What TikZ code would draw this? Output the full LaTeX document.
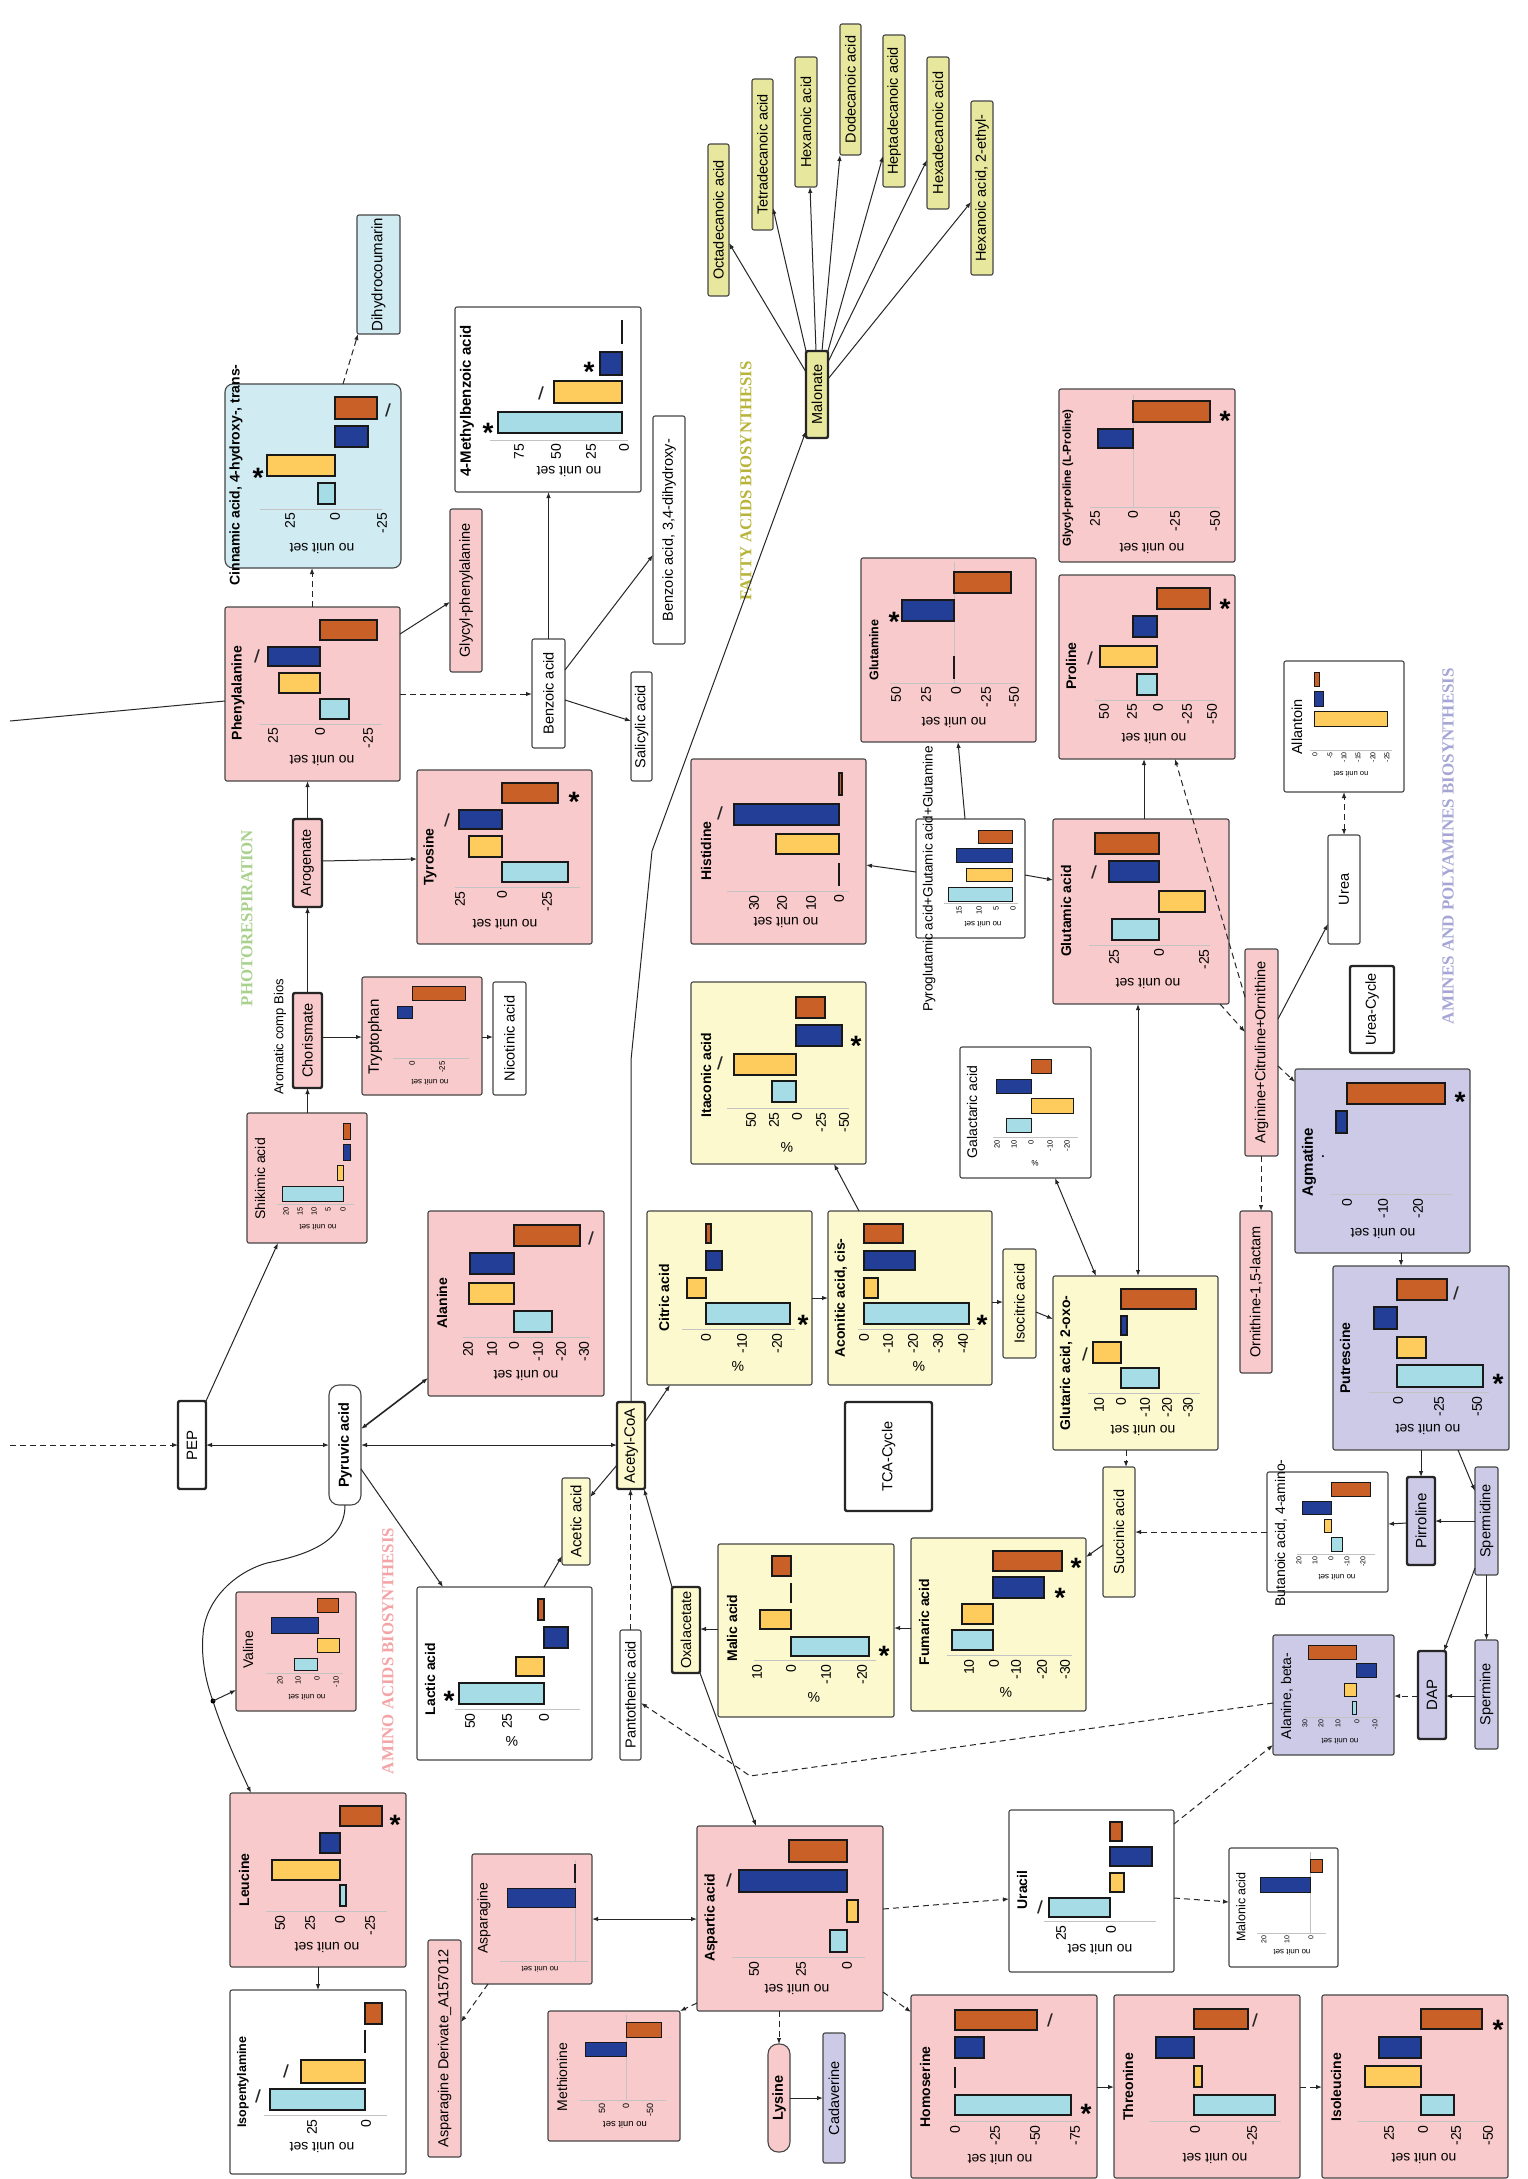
\documentclass[tikz,border=0pt]{standalone}
\usepackage{fontspec}
\usepackage{graphicx}
\setmainfont{Liberation Sans}
\newfontfamily\serf{Liberation Serif}
\newfontfamily\djv{DejaVu Sans}
\usetikzlibrary{arrows.meta}
\definecolor{pinkc}{RGB}{249,202,203}
\definecolor{cyanc}{RGB}{208,236,242}
\definecolor{yelc}{RGB}{253,249,206}
\definecolor{fatc}{RGB}{231,231,158}
\definecolor{purc}{RGB}{204,202,230}
\definecolor{bor}{RGB}{70,70,70}
\definecolor{bO}{RGB}{200,96,40}
\definecolor{bB}{RGB}{34,62,150}
\definecolor{bY}{RGB}{254,204,92}
\definecolor{bL}{RGB}{166,220,230}
\definecolor{axc}{RGB}{195,195,195}
\definecolor{secG}{RGB}{169,209,142}
\definecolor{secF}{RGB}{184,180,58}
\definecolor{secA}{RGB}{244,164,166}
\definecolor{secP}{RGB}{166,166,214}
\newcommand\fs[1]{\fontsize{#1}{#1}\selectfont}
\newcommand\bx[7]{\node[#1,minimum width={(#5)-(#3)},minimum height={(#6)-(#4)}] (#2) at ({((#3)+(#5))/2},{((#4)+(#6))/2}) {#7};}
\newcommand\hb[5]{\filldraw[barst,fill=#5] (#1,#3) rectangle (#2,#4);}
\newcommand\hbs[5]{\filldraw[barst,line width=0.9pt,fill=#5] (#1,#3) rectangle (#2,#4);}
\newcommand\zl[3]{\draw[zlin] (#1,#2) -- (#1,#3);}
\newcommand\zg[3]{\draw[axst] (#1,#2) -- (#1,#3);}
\newcommand\axl[3]{\draw[axst] (#1,#3) -- (#2,#3);}
\newcommand\tks[3]{\foreach \pp/\tv in {#3}{\node[tkst,font=\fs{#2}] at (\pp,#1) {\tv};}}
\newcommand\nous[3][14]{\node[nus,font=\fs{#1}] at (#2,#3) {no unit set};}
\newcommand\pct[3][14]{\node[nus,font=\fs{#1}] at (#2,#3) {\%};}
\newcommand\ttl[4][tit]{\node[#1] at (#2,#3) {#4};}
\newcommand\stm[2]{\node[stst] at (#1,{#2+16}) {*};}
\newcommand\slm[2]{\node[slst] at (#1,#2) {/};}
\tikzset{
 bxs/.style={draw=bor,line width=1.1pt,inner sep=0pt,outer sep=0pt,rounded corners=2pt,font=\fs{14.5}},
 pk/.style={bxs,fill=pinkc}, cy/.style={bxs,fill=cyanc}, yl/.style={bxs,fill=yelc},
 ft/.style={bxs,fill=fatc}, pu/.style={bxs,fill=purc}, wh/.style={bxs,fill=white},
 thk/.style={line width=2.4pt,draw=black!85},
 barst/.style={draw=black!90,line width=1.4pt},
 zlin/.style={draw=black!90,line width=2.8pt},
 axst/.style={draw=axc,line width=0.9pt},
 tkst/.style={rotate=90,anchor=east,inner sep=0pt},
 tit/.style={rotate=90,inner sep=0pt,font=\bfseries\fs{14}},
 titn/.style={rotate=90,inner sep=0pt,font=\fs{14}},
 nus/.style={rotate=180,inner sep=0pt},
 stst/.style={inner sep=0pt,anchor=base,font=\bfseries\fs{28}},
 slst/.style={inner sep=0pt,font=\djv\bfseries\fs{16},text=black!85},
 sec/.style={rotate=90,inner sep=0pt,font=\serf\bfseries},
 con/.style={draw=black!85,line width=1pt},
 arr/.style={con,-{Latex[length=6pt,width=4.5pt]}},
 darr/.style={con,{Latex[length=6pt,width=4.5pt]}-{Latex[length=6pt,width=4.5pt]}},
 dsh/.style={dash pattern=on 6pt off 4pt},
}
\begin{document}
\begin{tikzpicture}[x=1pt,y=-1pt]
\fill[white] (0,0) rectangle (1527,2179);
\useasboundingbox (0,0) rectangle (1527,2179);
% section labels
\node[sec,text=secG] at (247,918) {\resizebox{176pt}{!}{PHOTORESPIRATION}};
\node[sec,text=secF] at (746,481) {\resizebox{239pt}{!}{FATTY ACIDS BIOSYNTHESIS}};
\node[sec,text=secA] at (388,1651) {\resizebox{246pt}{!}{AMINO ACIDS BIOSYNTHESIS}};
\node[sec,text=secP] at (1448,846) {\resizebox{356pt}{!}{AMINES AND POLYAMINES BIOSYNTHESIS}};
\node[rotate=90,inner sep=0pt,font=\fs{13}] at (280,1037) {Aromatic comp Bios};
% ---- Cinnamic
\bx{cy,rounded corners=8pt}{cin}{225}{384}{401}{568}{}
\ttl{236}{475}{Cinnamic acid, 4-hydroxy-, trans-}
\hb{335}{377}{397}{419}{bO}\hb{335}{368}{426}{447}{bB}\hb{267}{335}{455}{476}{bY}\hb{318}{335}{483}{504}{bL}
\axl{260}{382}{509}\tks{513}{14}{290/25,335/0,382/-25}\nous{322}{548}\stm{258}{471}\slm{388}{410}
\bx{cy,font=\fs{15}}{dih}{357}{215}{400}{334}{\rotatebox{90}{Dihydrocoumarin}}
% ---- 4-Methylbenzoic
\bx{wh}{mbz}{455}{307}{641}{492}{}
\ttl[tit,font=\bfseries\fs{15}]{467}{401}{4-Methylbenzoic acid}
\hb{498}{622}{412}{433}{bL}\hb{554}{622}{381}{403}{bY}\hb{600}{622}{352}{375}{bB}\zl{622}{320}{344}
\axl{490}{628}{440}\tks{444}{14}{519/75,556/50,591/25,624/0}\nous{569}{471}
\stm{488}{426}\slm{541}{393}\stm{589}{365}
% ---- fatty acids
\bx{ft}{oct}{708}{144}{729}{296}{\rotatebox{90}{Octadecanoic acid}}
\bx{ft}{tet}{752}{79}{773}{230}{\rotatebox{90}{Tetradecanoic acid}}
\bx{ft}{hex}{795}{57}{817}{187}{\rotatebox{90}{Hexanoic acid}}
\bx{ft}{dod}{840}{24}{861}{155}{\rotatebox{90}{Dodecanoic acid}}
\bx{ft}{hep}{883}{35}{905}{187}{\rotatebox{90}{Heptadecanoic acid}}
\bx{ft}{hxd}{927}{57}{949}{209}{\rotatebox{90}{Hexadecanoic acid}}
\bx{ft}{hxe}{971}{101}{993}{275}{\rotatebox{90}{Hexanoic acid, 2-ethyl-}}
\bx{ft,thk}{mal}{806}{351}{828}{438}{\rotatebox{90}{Malonate}}
\bx{wh}{b34}{653}{416}{685}{644}{\rotatebox{90}{Benzoic acid, 3,4-dihydroxy-}}
% ---- Glycyl-proline
\bx{pk}{glp}{1059}{389}{1235}{562}{}
\ttl[tit,font=\bfseries\fs{11.5}]{1068}{478}{Glycyl-proline (L-Proline)}
\zg{1133}{395}{507}
\hb{1133}{1210}{401}{422}{bO}\hb{1098}{1133}{429}{448}{bB}
\axl{1090}{1220}{507}\tks{511}{14}{1095/25,1133/0,1175/-25,1215/-50}\nous{1152}{548}\stm{1225}{414}
% ---- Phenylalanine
\bx{pk}{phe}{225}{607}{400}{781}{}
\ttl{238}{693}{Phenylalanine}
\hb{320}{377}{620}{640}{bO}\hb{268}{320}{647}{666}{bB}\hb{279}{320}{673}{693}{bY}\hb{320}{349}{699}{719}{bL}
\axl{260}{382}{724}\tks{728}{14}{273/25,320/0,368/-25}\nous{322}{760}\slm{257}{656}
\bx{pk}{gph}{450}{509}{482}{672}{\rotatebox{90}{Glycyl-phenylalanine}}
\bx{wh}{ben}{532}{639}{565}{748}{\rotatebox{90}{Benzoic acid}}
\bx{wh}{sal}{631}{672}{652}{781}{\rotatebox{90}{Salicylic acid}}
\bx{pk,thk}{aro}{293}{819}{322}{907}{\rotatebox{90}{Arogenate}}
\bx{pk,thk}{cho}{293}{993}{322}{1088}{\rotatebox{90}{Chorismate}}
% ---- Tyrosine
\bx{pk}{tyr}{417}{770}{592}{944}{}
\ttl{430}{857}{Tyrosine}
\hb{502}{558}{783}{803}{bO}\hb{459}{502}{810}{829}{bB}\hb{469}{502}{836}{857}{bY}\hb{502}{568}{862}{882}{bL}
\axl{455}{580}{887}\tks{891}{14}{460/25,502/0,547/-25}\nous{505}{924}\stm{574}{795}\slm{447}{820}
% ---- Tryptophan
\bx{pk}{trp}{362}{977}{482}{1095}{}
\ttl[titn,font=\fs{15}]{375}{1037}{Tryptophan}
\hbs{412}{465}{986}{1000}{bO}\hbs{397}{412}{1006}{1018}{bB}
\axl{393}{469}{1058}\tks{1061}{8}{412/0,442/-25}\nous[8]{430}{1082}
\bx{wh}{nic}{493}{982}{526}{1095}{\rotatebox{90}{Nicotinic acid}}
% ---- Shikimic
\bx{pk}{shi}{247}{1113}{367}{1243}{}
\ttl[titn]{260}{1179}{Shikimic acid}
\hbs{343}{350}{1123}{1139}{bO}\hbs{343}{350}{1144}{1160}{bB}\hbs{337}{343}{1165}{1180}{bY}\hbs{282}{343}{1186}{1201}{bL}
\axl{277}{354}{1204}\tks{1207}{7.5}{286/20,300/15,314/10,328/5,343/0}\nous[8]{318}{1227}
% ---- Glutamine
\bx{pk}{gln}{861}{558}{1036}{742}{}
\ttl[tit,font=\bfseries\fs{12.5}]{874}{650}{Glutamine}
\zg{954}{562}{683}
\hb{954}{1011}{572}{593}{bO}\hb{902}{954}{600}{621}{bB}\zl{954}{656}{679}
\axl{890}{1020}{683}\tks{687}{14}{896/50,926/25,956/0,986/-25,1014/-50}\nous{954}{722}\stm{894}{615}
% ---- Histidine
\bx{pk}{his}{691}{759}{866}{944}{}
\ttl{706}{851}{Histidine}
\hb{839}{842}{773}{795}{bO}\hb{734}{839}{804}{825}{bB}\hb{776}{839}{834}{854}{bY}\zl{839}{863}{886}
\axl{727}{849}{891}\tks{895}{14}{754/30,782/20,811/10,839/0}\nous{786}{922}\slm{720}{813}
% ---- Pyroglutamic
\bx{wh}{pyr}{916}{819}{1025}{938}{}
\ttl[titn,font=\fs{13.5}]{929}{879}{Pyroglutamic acid+Glutamic acid+Glutamine}
\hbs{978}{1012}{830}{843}{bO}\hbs{956}{1012}{848}{862}{bB}\hbs{966}{1012}{868}{881}{bY}\hbs{948}{1012}{887}{901}{bL}
\axl{944}{1018}{903}\tks{906}{7.5}{959/15,979/10,996/5,1013/0}\nous[8]{983}{924}
% ---- Itaconic
\bx{yl}{ita}{691}{982}{866}{1164}{}
\ttl{706}{1075}{Itaconic acid}
\hb{796}{825}{997}{1018}{bO}\hb{796}{842}{1025}{1046}{bB}\hb{734}{796}{1054}{1075}{bY}\hb{772}{796}{1081}{1102}{bL}
\axl{727}{849}{1108}\tks{1112}{14}{751/50,774/25,797/0,821/-25,844/-50}\pct{787}{1147}\stm{856}{1039}\slm{720}{1063}
% ---- Proline
\bx{pk}{pro}{1059}{575}{1235}{759}{}
\ttl{1071}{666}{Proline}
\hb{1157}{1210}{588}{609}{bO}\hb{1133}{1157}{616}{637}{bB}\hb{1100}{1157}{646}{667}{bY}\hb{1137}{1157}{674}{695}{bL}
\axl{1095}{1215}{700}\tks{704}{14}{1104/50,1132/25,1158/0,1187/-25,1212/-50}\nous{1154}{738}\stm{1225}{602}\slm{1090}{658}
% ---- Glutamic
\bx{pk}{glu}{1053}{819}{1229}{1004}{}
\ttl{1066}{911}{Glutamic acid}
\hb{1095}{1159}{833}{854}{bO}\hb{1109}{1159}{861}{882}{bB}\hb{1159}{1205}{891}{912}{bY}\hb{1112}{1159}{919}{940}{bL}
\axl{1089}{1210}{945}\tks{949}{14}{1114/25,1159/0,1204/-25}\nous{1148}{983}\slm{1094}{872}
% ---- Allantoin
\bx{wh}{all}{1284}{661}{1404}{792}{}
\ttl[titn,font=\fs{14.5}]{1297}{727}{Allantoin}
\hbs{1314}{1319}{672}{686}{bO}\hbs{1314}{1323}{691}{706}{bB}\hbs{1314}{1387}{711}{726}{bY}
\axl{1310}{1392}{750}\tks{752}{7}{1315/0,1330/-5,1344/-10,1358/-15,1373/-20,1387/-25}\nous[7.5]{1351}{774}
\bx{wh}{ure}{1328}{835}{1360}{944}{\rotatebox{90}{Urea}}
\bx{wh,thk}{uc}{1350}{966}{1394}{1053}{\rotatebox{90}{Urea-Cycle}}
\bx{pk}{arg}{1245}{949}{1278}{1156}{\rotatebox{90}{Arginine+Citruline+Ornithine}}
\bx{pk}{orn}{1240}{1211}{1272}{1373}{\rotatebox{90}{Ornithine-1,5-lactam}}
% ---- Galactaric
\bx{wh}{gal}{960}{1047}{1091}{1178}{}
\ttl[titn]{972}{1112}{Galactaric acid}
\hbs{1031}{1051}{1059}{1073}{bO}\hbs{996}{1031}{1079}{1093}{bB}\hbs{1031}{1073}{1098}{1113}{bY}\hbs{1006}{1031}{1118}{1132}{bL}
\axl{993}{1078}{1137}\tks{1140}{7.5}{997/20,1014/10,1031/0,1050/-10,1067/-20}\pct[8]{1035}{1163}
% ---- PEP, Pyruvic
\bx{wh,thk,font=\fs{15}}{pep}{178}{1401}{206}{1489}{\rotatebox{90}{PEP}}
\bx{wh,rounded corners=10pt,font=\bfseries\fs{14.5}}{pyv}{329}{1385}{361}{1505}{\rotatebox{90}{Pyruvic acid}}
% ---- Alanine
\bx{pk}{ala}{428}{1211}{604}{1396}{}
\ttl{442}{1303}{Alanine}
\hb{514}{580}{1225}{1246}{bO}\hb{470}{514}{1253}{1274}{bB}\hb{469}{514}{1283}{1304}{bY}\hb{514}{552}{1311}{1332}{bL}
\axl{463}{590}{1337}\tks{1341}{14}{468/20,492/10,514/0,538/-10,561/-20,584/-30}\nous{526}{1375}\slm{591}{1238}
% ---- Citric
\bx{yl}{cit}{647}{1211}{812}{1385}{}
\ttl{664}{1298}{Citric acid}
\hb{706}{711}{1224}{1243}{bO}\hb{706}{722}{1251}{1270}{bB}\hb{687}{706}{1278}{1298}{bY}\hb{706}{790}{1303}{1324}{bL}
\axl{682}{795}{1329}\tks{1333}{14}{706/0,742/-10,777/-20}\pct{738}{1366}\stm{803}{1318}
% ---- Aconitic
\bx{yl}{aco}{828}{1211}{992}{1385}{}
\ttl{841}{1298}{Aconitic acid, cis-}
\hb{864}{903}{1224}{1243}{bO}\hb{864}{915}{1251}{1270}{bB}\hb{864}{878}{1278}{1298}{bY}\hb{864}{969}{1303}{1324}{bL}
\axl{858}{975}{1329}\tks{1333}{14}{864/0,888/-10,913/-20,938/-30,963/-40}\pct{919}{1366}\stm{982}{1318}
\bx{yl}{iso}{1003}{1249}{1036}{1358}{\rotatebox{90}{Isocitric acid}}
\bx{wh,thk}{tca}{845}{1402}{932}{1511}{\rotatebox{90}{TCA-Cycle}}
\bx{yl,thk,font=\fs{15}}{acc}{617}{1402}{645}{1489}{\rotatebox{90}{Acetyl-CoA}}
\bx{yl,font=\fs{15}}{ace}{562}{1478}{590}{1565}{\rotatebox{90}{Acetic acid}}
\bx{yl,thk}{oxa}{672}{1587}{700}{1673}{\rotatebox{90}{Oxalacetate}}
% ---- Malic
\bx{yl}{mlc}{718}{1544}{894}{1717}{}
\ttl{732}{1628}{Malic acid}
\hb{772}{791}{1556}{1576}{bO}\zl{791}{1583}{1603}\hb{760}{791}{1610}{1629}{bY}\hb{791}{869}{1637}{1656}{bL}
\axl{754}{876}{1660}\tks{1664}{14}{757/10,791/0,826/-10,862/-20}\pct{814}{1697}\stm{884}{1649}
% ---- Fumaric
\bx{yl}{fum}{911}{1538}{1086}{1711}{}
\ttl{924}{1622}{Fumaric acid}
\hb{993}{1062}{1551}{1571}{bO}\hb{993}{1044}{1577}{1598}{bB}\hb{962}{993}{1604}{1624}{bY}\hb{952}{993}{1630}{1650}{bL}
\axl{947}{1072}{1655}\tks{1659}{14}{969/10,994/0,1016/-10,1042/-20,1065/-30}\pct{1006}{1692}\stm{1076}{1561}\stm{1060}{1591}
% ---- Glutaric
\bx{yl}{gta}{1053}{1276}{1218}{1450}{}
\ttl{1066}{1363}{Glutaric acid, 2-oxo-}
\hb{1121}{1196}{1289}{1309}{bO}\hb{1121}{1127}{1316}{1335}{bB}\hb{1093}{1121}{1342}{1363}{bY}\hb{1121}{1159}{1368}{1388}{bL}
\axl{1088}{1200}{1393}\tks{1397}{14}{1099/10,1121/0,1145/-10,1167/-20,1188/-30}\nous{1143}{1430}\slm{1085}{1354}
\bx{yl}{suc}{1103}{1467}{1135}{1597}{\rotatebox{90}{Succinic acid}}
% ---- Butanoic
\bx{wh}{gab}{1267}{1472}{1388}{1592}{}
\ttl[titn]{1281}{1533}{Butanoic acid, 4-amino-}
\hbs{1331}{1370}{1482}{1496}{bO}\hbs{1302}{1331}{1501}{1514}{bB}\hbs{1324}{1331}{1519}{1532}{bY}\hbs{1331}{1342}{1537}{1551}{bL}
\axl{1297}{1375}{1554}\tks{1556}{7}{1299/20,1315/10,1331/0,1347/-10,1363/-20}\nous[8]{1337}{1577}
\bx{pu,thk,font=\fs{15}}{pir}{1407}{1477}{1435}{1565}{\rotatebox{90}{Pirroline}}
\bx{pu}{spd}{1475}{1467}{1498}{1575}{\rotatebox{90}{Spermidine}}
% ---- Putrescine
\bx{pu}{put}{1333}{1266}{1509}{1450}{}
\ttl{1345}{1358}{Putrescine}
\hb{1397}{1447}{1279}{1300}{bO}\hb{1374}{1397}{1307}{1329}{bB}\hb{1397}{1426}{1337}{1358}{bY}\hb{1397}{1483}{1365}{1387}{bL}
\axl{1369}{1489}{1392}\tks{1396}{14}{1398/0,1439/-25,1477/-50}\nous{1428}{1429}\slm{1456}{1293}\stm{1498}{1377}
% ---- Agmatine
\bx{pu}{agm}{1295}{1069}{1470}{1253}{}
\ttl[tit,font=\bfseries\fs{15}]{1309}{1162}{Agmatine}
\hb{1347}{1445}{1083}{1104}{bO}\hb{1336}{1347}{1111}{1133}{bB}
\node[inner sep=0pt,font=\bfseries\fs{12}] at (1323,1157) {.};
\axl{1330}{1452}{1194}\tks{1198}{14}{1347/0,1383/-10,1418/-20}\nous{1383}{1233}\stm{1460}{1095}
% ---- Valine
\bx{pk}{val}{236}{1592}{356}{1711}{}
\ttl[titn]{248}{1650}{Valine}
\hbs{317}{338}{1598}{1612}{bO}\hbs{271}{318}{1617}{1633}{bB}\hbs{317}{339}{1638}{1652}{bY}\hbs{294}{317}{1658}{1670}{bL}
\axl{266}{343}{1673}\tks{1676}{7.5}{280/20,298/10,317/0,336/-10}\nous[8]{307}{1697}
% ---- Leucine
\bx{pk}{leu}{230}{1793}{406}{1967}{}
\ttl{244}{1880}{Leucine}
\hb{340}{382}{1806}{1826}{bO}\hb{320}{340}{1833}{1853}{bB}\hb{272}{340}{1860}{1880}{bY}\hb{340}{346}{1885}{1906}{bL}
\axl{266}{387}{1911}\tks{1915}{14}{280/50,310/25,340/0,370/-25}\nous{327}{1947}\stm{395}{1818}
% ---- Isopentylamine
\bx{wh}{ipa}{230}{1990}{406}{2174}{}
\ttl[tit,font=\bfseries\fs{12.5}]{243}{2082}{Isopentylamine}
\hb{365}{382}{2003}{2024}{bO}\zl{365}{2030}{2053}\hb{301}{365}{2060}{2083}{bY}\hb{270}{365}{2089}{2110}{bL}
\axl{264}{387}{2115}\tks{2119}{14}{312/25,366/0}\nous{322}{2147}\slm{286}{2071}\slm{258}{2096}
\bx{pk}{asd}{428}{1940}{461}{2157}{\rotatebox{90}{Asparagine Derivate\_A157012}}
% ---- Lactic
\bx{wh}{lac}{417}{1587}{592}{1760}{}
\ttl{430}{1679}{Lactic acid}
\hb{538}{544}{1599}{1620}{bO}\hb{544}{568}{1627}{1648}{bB}\hb{516}{544}{1657}{1676}{bY}\hb{459}{544}{1683}{1704}{bL}
\axl{455}{580}{1709}\tks{1713}{14}{470/50,507/25,544/0}\pct{512}{1741}\stm{449}{1694}
% ---- Asparagine
\bx{pk}{asn}{472}{1854}{592}{1984}{}
\ttl[titn]{484}{1918}{Asparagine}
\zg{575}{1860}{1961}
\zl{575}{1864}{1883}\hbs{507}{575}{1888}{1907}{bB}
\axl{500}{588}{1961}\nous[8]{540}{1969}
\bx{wh}{pan}{620}{1630}{641}{1760}{\rotatebox{90}{Pantothenic acid}}
% ---- Aspartic
\bx{pk}{asp}{697}{1826}{883}{2011}{}
\ttl{711}{1918}{Aspartic acid}
\hb{789}{847}{1840}{1862}{bO}\hb{739}{847}{1870}{1892}{bB}\hb{847}{858}{1900}{1922}{bY}\hb{830}{847}{1930}{1952}{bL}
\axl{732}{865}{1957}\tks{1961}{14}{754/50,801/25,847/0}\nous{797}{1989}\slm{729}{1880}
% ---- Methionine
\bx{pk}{met}{548}{2011}{680}{2141}{}
\ttl[titn]{562}{2077}{Methionine}
\zg{626}{2015}{2100}
\hbs{626}{661}{2022}{2037}{bO}\hbs{585}{626}{2042}{2056}{bB}
\axl{580}{666}{2100}\tks{2103}{9}{602/50,626/0,650/-50}\nous[9.5]{625}{2125}
\bx{pk,rounded corners=10pt,font=\bfseries\fs{14.5}}{lys}{768}{2044}{790}{2152}{\rotatebox{90}{Lysine}}
\bx{pu}{cad}{823}{2033}{845}{2163}{\rotatebox{90}{Cadaverine}}
% ---- Homoserine
\bx{pk}{hom}{911}{1995}{1097}{2178}{}
\ttl{925}{2087}{Homoserine}
\hb{955}{1037}{2010}{2030}{bO}\hb{955}{984}{2037}{2058}{bB}\zl{955}{2067}{2088}\hb{955}{1071}{2095}{2115}{bL}
\axl{950}{1080}{2121}\tks{2125}{14}{955/0,995/-25,1035/-50,1075/-75}\nous{1000}{2159}\slm{1050}{2020}\stm{1086}{2107}
% ---- Uracil
\bx{wh}{ura}{1009}{1810}{1174}{1972}{}
\ttl{1022}{1890}{Uracil}
\hb{1110}{1122}{1822}{1841}{bO}\hb{1110}{1152}{1847}{1866}{bB}\hb{1110}{1124}{1873}{1892}{bY}\hb{1049}{1110}{1898}{1917}{bL}
\axl{1044}{1156}{1921}\tks{1925}{14}{1061/25,1111/0}\nous{1100}{1949}\slm{1040}{1907}
% ---- Malonic
\bx{wh}{mla}{1229}{1848}{1338}{1967}{}
\ttl[titn,font=\fs{12.5}]{1241}{1907}{Malonic acid}
\zg{1310}{1852}{1933}
\hbs{1310}{1322}{1859}{1872}{bO}\hbs{1260}{1310}{1877}{1892}{bB}
\axl{1257}{1326}{1933}\tks{1935}{7}{1264/20,1287/10,1311/0}\nous[8]{1292}{1952}
% ---- Threonine
\bx{pk}{thr}{1114}{1995}{1300}{2178}{}
\ttl{1128}{2087}{Threonine}
\hb{1194}{1248}{2009}{2029}{bO}\hb{1156}{1194}{2037}{2058}{bB}\hb{1194}{1202}{2066}{2087}{bY}\hb{1194}{1275}{2095}{2115}{bL}
\axl{1150}{1281}{2121}\tks{2125}{14}{1195/0,1252/-25}\nous{1215}{2158}\slm{1255}{2020}
% ---- Isoleucine
\bx{pk}{ile}{1322}{1995}{1508}{2178}{}
\ttl{1336}{2087}{Isoleucine}
\hb{1421}{1482}{2009}{2029}{bO}\hb{1379}{1421}{2037}{2058}{bB}\hb{1365}{1421}{2066}{2087}{bY}\hb{1421}{1454}{2095}{2115}{bL}
\axl{1358}{1490}{2121}\tks{2125}{14}{1389/25,1423/0,1456/-25,1488/-50}\nous{1424}{2158}\stm{1498}{2023}
% ---- Alanine beta
\bx{pu}{alb}{1273}{1635}{1394}{1755}{}
\ttl[titn]{1287}{1696}{Alanine, beta-}
\hbs{1308}{1356}{1645}{1659}{bO}\hbs{1356}{1376}{1663}{1677}{bB}\hbs{1344}{1356}{1683}{1696}{bY}\hbs{1352}{1356}{1701}{1714}{bL}
\axl{1303}{1380}{1717}\tks{1719}{7}{1305/30,1321/20,1338/10,1357/0,1375/-10}\nous[8]{1340}{1741}
\bx{pu,thk,font=\fs{15}}{dap}{1418}{1651}{1446}{1739}{\rotatebox{90}{DAP}}
\bx{pu}{spm}{1475}{1640}{1498}{1749}{\rotatebox{90}{Spermine}}
% ================= connectors
\draw[arr,dsh] (cin.north -| 343,0) -- (dih.south -| 358,0);
\draw[arr,dsh] (phe.north -| 312,0) -- (cin.south -| 312,0);
\draw[arr] (phe.east |- 0,634) -- (gph.west |- 0,602);
\draw[arr,dsh] (phe.east |- 0,694) -- (ben.west |- 0,694);
\coordinate (lp) at (10,721);
\draw[con] (lp) -- (phe.west |- 0,701);
\draw[arr] (aro.north) -- (phe.south -| aro.north);
\draw[arr] (aro.east |- 0,861) -- (tyr.west |- 0,859);
\draw[arr] (cho.north) -- (aro.south);
\draw[arr] (cho.east |- 0,1037) -- (trp.west |- 0,1037);
\draw[arr] (trp.east |- 0,1037) -- (nic.west |- 0,1037);
\draw[arr] (shi.north -| cho.south) -- (cho.south);
\draw[arr] (pep.north east) -- (shi.south -| 278,0);
\coordinate (ld) at (10,1445);
\draw[arr,dsh] (ld) -- (pep.west |- 0,1445);
\draw[darr] (pep.east |- 0,1445) -- (pyv.west |- 0,1445);
\draw[darr,line width=1.6pt] (pyv.east |- 0,1429) -- (ala.west |- 0,1378);
\draw[darr] (pyv.east |- 0,1445) -- (acc.west |- 0,1445);
\draw[arr] (pyv.east |- 0,1469) -- (lac.north -| 443,0);
\coordinate (vb) at (213,1701);
\draw[arr] (pyv.south) .. controls (345,1545) and (300,1556) .. (267,1563) .. controls (235,1572) and (205,1600) .. (203,1635) .. controls (201,1655) and (205,1680) .. (vb) .. controls (222,1730) and (238,1765) .. (leu.north -| 251,0);
\fill (vb) circle (2.5pt);
\draw[arr] (vb) -- (val.west |- 0,1690);
\draw[arr] (leu.south -| 318,0) -- (ipa.north -| 318,0);
\draw[arr,dsh] (asn.south -| 488,0) -- (asd.east |- 0,2022);
\draw[darr] (asn.east |- 0,1919) -- (asp.west |- 0,1919);
\draw[arr] (lac.north -| 544,0) -- (ace.west |- 0,1556);
\draw[arr] (acc.west |- 0,1465) -- (ace.east |- 0,1497);
\draw[arr] (acc.east |- 0,1422) -- (cit.south -| 670,0);
\draw[arr,dsh] (pan.north) -- (acc.south -| pan.north);
\draw[arr] (oxa.north west) -- (acc.south -| 644,0);
\draw[arr] (mlc.west |- 0,1629) -- (oxa.east |- 0,1629);
\draw[arr] (fum.west |- 0,1628) -- (mlc.east |- 0,1628);
\draw[arr] (oxa.south east) -- (asp.north -| 756,0);
\draw[arr] (cit.east |- 0,1298) -- (aco.west |- 0,1298);
\draw[arr] (aco.north -| 859,0) -- (ita.south -| 834,0);
\draw[arr] (aco.east |- 0,1302) -- (iso.west |- 0,1302);
\draw[arr] (iso.east |- 0,1312) -- (gta.west |- 0,1319);
\draw[darr] (gal.south -| 1055,0) -- (gta.north -| 1096,0);
\draw[darr] (glu.south -| 1138,0) -- (gta.north -| 1138,0);
\draw[arr] (pyr.west |- 0,872) -- (his.east |- 0,865);
\draw[arr] (pyr.north -| 965,0) -- (gln.south -| 958,0);
\draw[arr] (pyr.east |- 0,875) -- (glu.west |- 0,880);
\draw[arr] (glu.north -| 1144,0) -- (pro.south -| 1144,0);
\draw[arr,dsh] (arg.west |- 0,997) -- (pro.south -| 1175,0);
\draw[arr,dsh] (glu.south -| 1220,0) -- (arg.west |- 0,1032);
\draw[arr] (arg.east |- 0,1019) -- (ure.west |- 0,924);
\draw[darr,dsh] (ure.north) -- (all.south -| ure.north);
\draw[arr,dsh] (arg.east |- 0,1066) -- (agm.west |- 0,1082);
\draw[arr,dsh] (arg.south -| 1261,0) -- (orn.north -| 1261,0);
\draw[arr] (agm.south -| 1401,0) -- (put.north -| 1401,0);
\draw[arr] (put.south -| pir.north) -- (pir.north);
\draw[arr] (put.south -| 1458,0) -- (spd.west |- 0,1491);
\draw[arr] (spd.west |- 0,1521) -- (pir.east |- 0,1521);
\draw[arr] (pir.west |- 0,1523) -- (gab.east |- 0,1524);
\draw[arr,dsh] (gab.west |- 0,1532) -- (suc.east |- 0,1532);
\draw[arr,dsh] (gta.south -| 1126,0) -- (suc.north -| 1126,0);
\draw[arr] (suc.west |- 0,1545) -- (fum.east |- 0,1557);
\draw[arr] (spd.south) -- (spm.north);
\draw[arr] (spd.west |- 0,1568) -- (dap.north -| 1444,0);
\draw[arr] (spm.west |- 0,1696) -- (dap.east |- 0,1696);
\draw[arr,dsh] (dap.west |- 0,1696) -- (alb.east |- 0,1696);
\draw[arr,dsh] (ura.east |- 0,1824) -- (alb.west |- 0,1745);
\draw[arr,dsh] (alb.west |- 0,1703) -- (750,1776) -- (740,1769) -- (pan.east |- 0,1703);
\draw[arr,dsh] (asp.west |- 0,2003) -- (met.north east);
\draw[arr,dsh] (asp.south -| lys.north) -- (lys.north);
\draw[arr] (lys.east |- 0,2098) -- (cad.west |- 0,2098);
\draw[arr,dsh] (asp.east |- 0,1992) -- (hom.west |- 0,2012);
\draw[arr,dsh] (asp.east |- 0,1909) -- (ura.west |- 0,1899);
\draw[arr,dsh] (ura.east |- 0,1898) -- (mla.west |- 0,1902);
\draw[arr] (hom.east |- 0,2087) -- (thr.west |- 0,2087);
\draw[arr,dsh] (thr.east |- 0,2087) -- (ile.west |- 0,2087);
\draw[arr] (ben.north) -- (mbz.south -| ben.north);
\draw[arr] (ben.east |- 0,670) -- (b34.west |- 0,555);
\draw[arr] (ben.east |- 0,700) -- (sal.west |- 0,721);
\draw[arr] (acc.north) -- (631,1060) -- (652,851) -- (mal.west |- 0,431);
\draw[arr] (mal.west |- 0,372) -- (oct.east |- 0,243);
\draw[arr] (mal.north west) -- (tet.east |- 0,208);
\draw[arr] (mal.north -| 816,0) -- (hex.south -| 810,0);
\draw[arr] (mal.north -| 822,0) -- (dod.south west);
\draw[arr] (mal.north east) -- (hep.west |- 0,156);
\draw[arr] (mal.east |- 0,362) -- (hxd.west |- 0,160);
\draw[arr] (mal.east |- 0,379) -- (hxe.west |- 0,202);
\end{tikzpicture}
\end{document}
